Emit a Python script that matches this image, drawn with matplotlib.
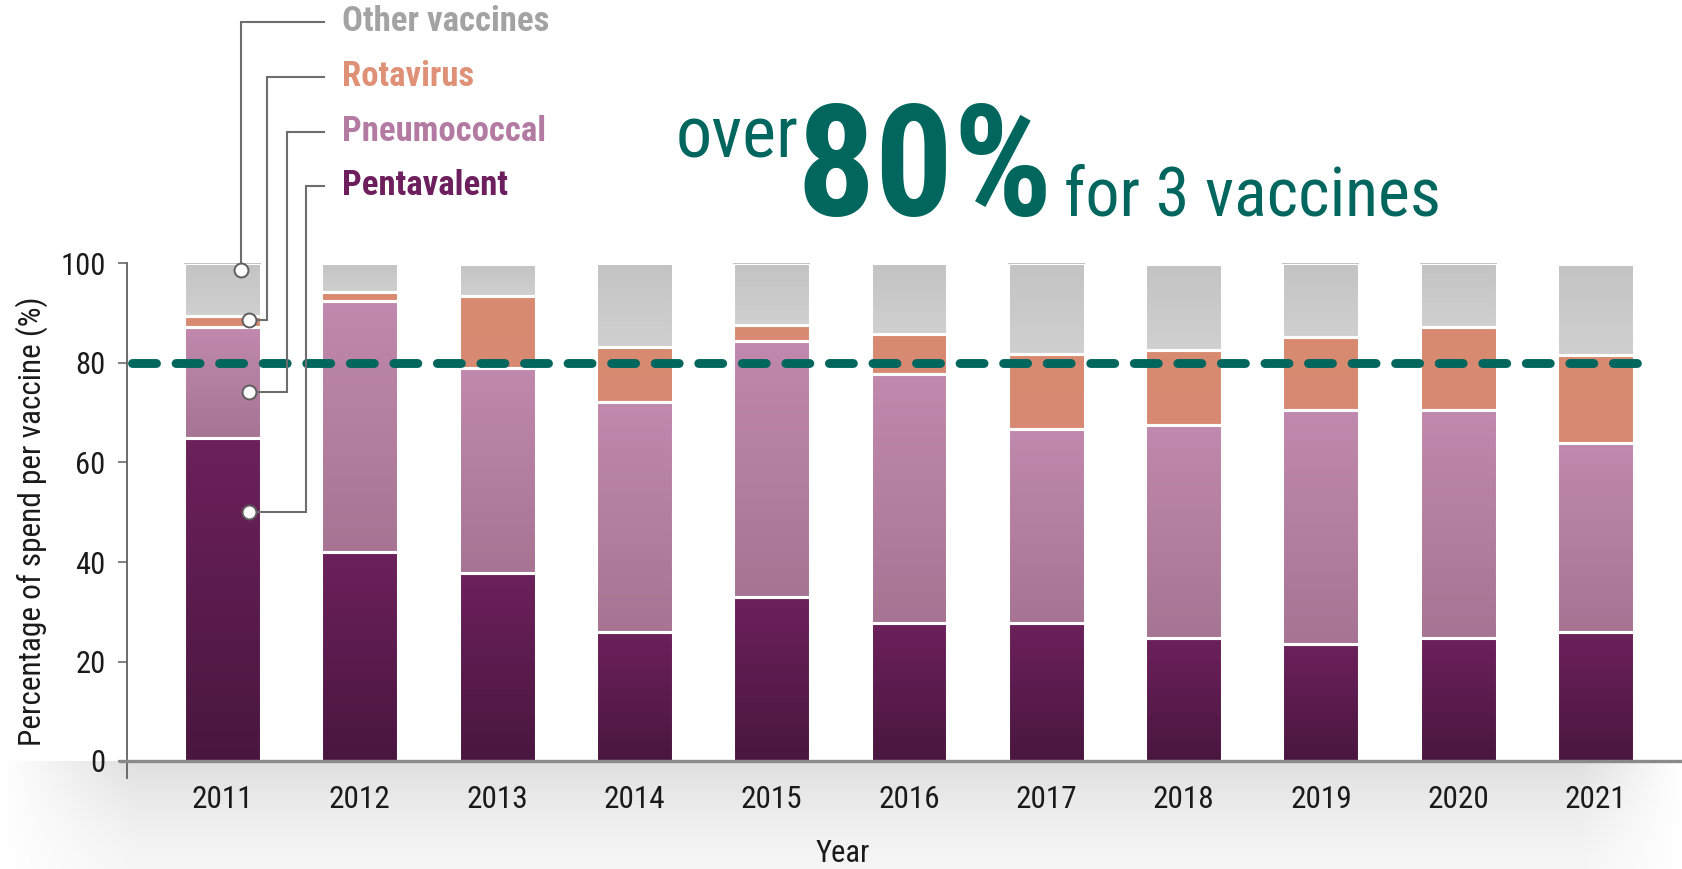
import numpy as np
import matplotlib
matplotlib.use('Agg')
import matplotlib.pyplot as plt
from matplotlib import font_manager
from matplotlib.colors import LinearSegmentedColormap

# share of spend per vaccine (%)
years = ['2011', '2012', '2013', '2014', '2015', '2016', '2017', '2018', '2019', '2020', '2021']
pentavalent = [65.0, 42.1, 37.7, 25.9, 32.9, 27.8, 27.8, 24.7, 23.5, 24.7, 25.9]
pneumococcal = [22.2, 50.4, 41.3, 46.3, 51.5, 49.9, 38.9, 42.9, 47.0, 45.8, 38.1]
rotavirus = [2.2, 1.8, 14.5, 11.1, 3.2, 8.2, 15.1, 15.1, 14.8, 16.8, 17.7]
other = [10.6, 5.7, 6.5, 16.7, 12.4, 14.1, 18.2, 17.3, 14.7, 12.7, 18.3]
threshold = 80

TEAL = '#00665e'

# pick a condensed face if one is installed
names = {f.name for f in font_manager.fontManager.ttflist}
cond = None
for cand in ['Roboto Condensed', 'Liberation Sans Narrow', 'Open Sans Condensed',
             'Noto Sans Condensed', 'DejaVu Sans Condensed']:
    if cand in names:
        cond = cand
        break
if cond is None:
    extra = sorted(n for n in names if 'Condensed' in n or 'Narrow' in n)
    cond = extra[0] if extra else 'DejaVu Sans'
plt.rcParams['font.family'] = [cond, 'DejaVu Sans']
plt.rcParams['font.stretch'] = 'condensed'


def fill_gradient(ax, bars, top_color, bottom_color):
    cmap = LinearSegmentedColormap.from_list('g', [bottom_color, top_color])
    grad = np.linspace(0, 1, 128).reshape(-1, 1)
    for b in bars:
        x, y = b.get_xy()
        im = ax.imshow(grad, cmap=cmap, aspect='auto', origin='lower',
                       extent=(x, x + b.get_width(), y, y + b.get_height()),
                       zorder=2, interpolation='bilinear')
        im.set_clip_path(b)


W, H = 1682, 869
fig = plt.figure(figsize=(W / 100, H / 100), dpi=100)

# soft grey shadow under the x axis
sh = fig.add_axes([0, 0, 1, 108 / H], zorder=-5)
yy = np.linspace(0, 1, 60).reshape(-1, 1)
xx = np.linspace(0, 1, 400).reshape(1, -1)
alpha = (0.3 + 0.7 * yy ** 1.5) * np.clip(xx / 0.08, 0, 1) * np.clip((1 - xx) / 0.06, 0, 1)
img = np.zeros((60, 400, 4))
img[..., :3] = 0.87
img[..., 3] = alpha * 0.95
sh.imshow(img, aspect='auto', origin='lower', extent=(0, 1, 0, 1))
sh.axis('off')

ax = fig.add_axes([127 / W, 108 / H, 1 - 127 / W, (761 - 263.5) / H])
ax.set_facecolor('none')

x = np.arange(len(years))
width = 0.56
bottom = np.zeros(len(years))
series = [
    (pentavalent, '#6c215b', '#4a1640'),
    (pneumococcal, '#c189ad', '#a77494'),
    (rotavirus, '#d98b72', '#d78a71'),
    (other, '#c3c3c3', '#d0d0d0'),
]
for vals, top_c, bot_c in series:
    bars = ax.bar(x, vals, width, bottom=bottom, facecolor='none',
                  edgecolor='white', linewidth=2.2, zorder=3)
    fill_gradient(ax, bars, top_c, bot_c)
    bottom += np.array(vals)

xlim = (-0.696, 10.63)
ax.set_xlim(*xlim)
ax.set_ylim(0, 100)

ax.plot([xlim[0] + 0.035, 10.34], [threshold, threshold], color=TEAL, linewidth=6.4,
        dashes=(2.7, 2.2), dash_capstyle='round', zorder=5, clip_on=False)

# axes styling
for s in ['top', 'right']:
    ax.spines[s].set_visible(False)
ax.spines['left'].set_color('#6b6b6b')
ax.spines['left'].set_linewidth(1.4)
ax.spines['left'].set_bounds(-3.5, 100)
ax.spines['bottom'].set_color('#8a8a8a')
ax.spines['bottom'].set_linewidth(2.4)
ax.spines['bottom'].set_bounds(-0.75, xlim[1])
ax.spines['bottom'].set_zorder(4)

ax.set_yticks([0, 20, 40, 60, 80, 100])
ax.tick_params(axis='y', length=6.5, width=1.2, color='#6b6b6b', pad=9,
               labelsize=22, labelcolor='#1a1a1a')
for t in ax.yaxis.get_major_ticks():
    if t.get_loc() == threshold:
        t.tick1line.set_visible(False)
        t.label1.set_color(TEAL)
        t.label1.set_fontweight('bold')
ax.set_xticks(x)
ax.set_xticklabels(years)
ax.tick_params(axis='x', length=0, pad=17, labelsize=22.5, labelcolor='#1a1a1a')

fig.text(32 / W, 1 - 521 / H, 'Percentage of spend per vaccine (%)', rotation=90,
         ha='center', va='center', fontsize=22.5, color='#1a1a1a')
fig.text(843 / W, 1 - 853 / H, 'Year', ha='center', va='center', fontsize=22,
         color='#1a1a1a')

# callout labels with leader lines to the 2011 bar
px = lambda v: (v - 222.6) / 137.3      # figure pixel -> data x
py = lambda v: (761 - v) / 4.975        # figure pixel -> data y
callouts = [
    ('Other vaccines', '#a3a3a3', 22, 241, 241, 270),
    ('Rotavirus', '#df9177', 77, 267.5, 249.5, 320),
    ('Pneumococcal', '#b37ba2', 132, 287.5, 249.5, 392),
    ('Pentavalent', '#6c1f5c', 186, 306, 249.5, 512),
]
for label, col, ty, vx, cx, cy in callouts:
    ax.plot([px(324), px(vx), px(vx), px(cx)], [py(ty), py(ty), py(cy), py(cy)],
            color='#6e6e6e', linewidth=1.5, clip_on=False, zorder=6,
            solid_joinstyle='miter')
    ax.plot([px(cx)], [py(cy)], 'o', markersize=10, markerfacecolor='white',
            markeredgecolor='#5e5e5e', markeredgewidth=1.4, clip_on=False, zorder=7)
    ax.text(px(342), py(ty), label, color=col, fontsize=25, fontweight='bold',
            ha='left', va='center', clip_on=False)

# headline
fig.text(676 / W, 1 - 157 / H, 'over', color=TEAL, fontsize=52, ha='left', va='baseline')
fig.text(796 / W, 1 - 215 / H, '80%', color=TEAL, fontsize=112, fontweight='bold',
         ha='left', va='baseline')
fig.text(1064 / W, 1 - 215 / H, 'for 3 vaccines', color=TEAL, fontsize=49,
         ha='left', va='baseline')

fig.savefig('out.png', dpi=100)
